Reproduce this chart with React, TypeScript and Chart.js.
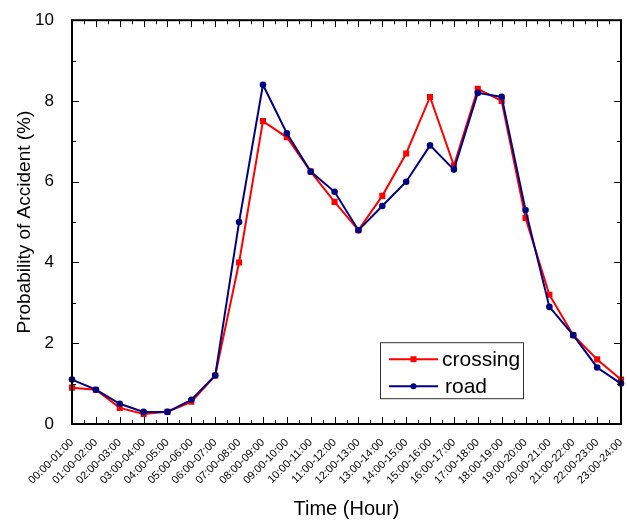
import React, { useEffect, useRef } from 'react';
import { Chart, registerables } from 'chart.js';

Chart.register(...registerables);

const hours = [
  '00:00-01:00', '01:00-02:00', '02:00-03:00', '03:00-04:00', '04:00-05:00', '05:00-06:00',
  '06:00-07:00', '07:00-08:00', '08:00-09:00', '09:00-10:00', '10:00-11:00', '11:00-12:00',
  '12:00-13:00', '13:00-14:00', '14:00-15:00', '15:00-16:00', '16:00-17:00', '17:00-18:00',
  '18:00-19:00', '19:00-20:00', '20:00-21:00', '21:00-22:00', '22:00-23:00', '23:00-24:00',
];
const crossing = [0.9, 0.85, 0.4, 0.25, 0.3, 0.55, 1.2, 4.0, 7.5, 7.1, 6.25, 5.5, 4.8, 5.65, 6.7, 8.1, 6.4, 8.3, 8.0, 5.1, 3.2, 2.2, 1.6, 1.1];
const road = [1.1, 0.85, 0.5, 0.3, 0.3, 0.6, 1.2, 5.0, 8.4, 7.2, 6.25, 5.75, 4.8, 5.4, 6.0, 6.9, 6.3, 8.2, 8.1, 5.3, 2.9, 2.2, 1.4, 1.0];
const yMin = 0;
const yMax = 10;
const yStep = 2;

const FONT = '"Liberation Sans", Arial, sans-serif';
const RED = '#ff0000';
const NAVY = '#000080';

const frameTicks = {
  id: 'frameTicks',
  afterDatasetsDraw(chart: any) {
    const { ctx, chartArea, scales } = chart;
    const { left, right, top, bottom } = chartArea;
    const x = scales.x;
    const y = scales.y;
    ctx.save();
    ctx.strokeStyle = '#000';
    ctx.lineWidth = 1;
    ctx.beginPath();
    const n = hours.length;
    for (let i = 0; i < n; i++) {
      const px = Math.round(x.getPixelForValue(i)) + 0.5;
      ctx.moveTo(px, bottom); ctx.lineTo(px, bottom - 7);
      ctx.moveTo(px, top); ctx.lineTo(px, top + 7);
      if (i < n - 1) {
        const mx = Math.round((x.getPixelForValue(i) + x.getPixelForValue(i + 1)) / 2) + 0.5;
        ctx.moveTo(mx, bottom); ctx.lineTo(mx, bottom - 4);
        ctx.moveTo(mx, top); ctx.lineTo(mx, top + 4);
      }
    }
    for (let v = yMin; v <= yMax; v += 1) {
      const py = Math.round(y.getPixelForValue(v)) + 0.5;
      const len = v % yStep === 0 ? 7 : 4;
      ctx.moveTo(left, py); ctx.lineTo(left + len, py);
      ctx.moveTo(right, py); ctx.lineTo(right - len, py);
    }
    ctx.stroke();
    ctx.lineWidth = 2;
    ctx.strokeRect(left, top, right - left, bottom - top);
    ctx.restore();
  },
};

const boxLegend = {
  id: 'boxLegend',
  afterDraw(chart: any) {
    const { ctx, chartArea } = chart;
    const bx = chartArea.left + 308;
    const by = chartArea.top + 322;
    const bw = 143;
    const bh = 56;
    ctx.save();
    ctx.fillStyle = '#fff';
    ctx.fillRect(bx, by, bw, bh);
    ctx.strokeStyle = '#333';
    ctx.lineWidth = 1;
    ctx.strokeRect(bx + 0.5, by + 0.5, bw, bh);
    chart.data.datasets.forEach((ds: any, k: number) => {
      const ly = by + 17 + k * 27;
      ctx.strokeStyle = ds.borderColor;
      ctx.lineWidth = 2;
      ctx.beginPath();
      ctx.moveTo(bx + 9, ly);
      ctx.lineTo(bx + 58, ly);
      ctx.stroke();
      ctx.fillStyle = ds.borderColor;
      if (ds.pointStyle === 'rect') {
        ctx.fillRect(bx + 33.5 - 3, ly - 3, 6, 6);
      } else {
        ctx.beginPath();
        ctx.arc(bx + 33.5, ly, 3, 0, Math.PI * 2);
        ctx.fill();
      }
      ctx.fillStyle = '#000';
      ctx.font = `21px ${FONT}`;
      ctx.textBaseline = 'middle';
      ctx.textAlign = 'left';
      ctx.fillText(ds.label, bx + (k === 0 ? 62 : 65), ly + 1);
    });
    ctx.restore();
  },
};

export default function App() {
  const ref = useRef<HTMLCanvasElement | null>(null);
  useEffect(() => {
    if (!ref.current) return;
    const chart = new Chart(ref.current, {
      type: 'line',
      data: {
        labels: hours,
        datasets: [
          {
            label: 'crossing',
            data: crossing,
            borderColor: RED,
            backgroundColor: RED,
            borderWidth: 2,
            pointStyle: 'rect',
            pointRadius: 4.3,
            pointBorderWidth: 0,
            tension: 0,
            order: 1,
          },
          {
            label: 'road',
            data: road,
            borderColor: NAVY,
            backgroundColor: NAVY,
            borderWidth: 2,
            pointStyle: 'circle',
            pointRadius: 3.3,
            pointBorderWidth: 0,
            tension: 0,
            order: 0,
          },
        ],
      },
      options: {
        responsive: false,
        animation: false,
        layout: { padding: { top: 20, right: 6, left: 0, bottom: 0 } },
        plugins: {
          legend: { display: false },
          tooltip: { enabled: false },
        },
        scales: {
          x: {
            type: 'category',
            offset: false,
            grid: { display: false },
            border: { display: false },
            ticks: {
              autoSkip: false,
              maxRotation: 45,
              minRotation: 45,
              color: '#000',
              padding: 4,
              font: { size: 11, family: FONT },
            },
            title: {
              display: true,
              text: 'Time (Hour)',
              color: '#000',
              font: { size: 20, family: FONT },
              padding: { top: 0, bottom: 0 },
            },
            afterFit(s: any) {
              s.height = 97;
              s.paddingRight = 0;
              s.paddingLeft = 0;
            },
          },
          y: {
            min: yMin,
            max: yMax,
            grid: { display: false },
            border: { display: false },
            ticks: {
              stepSize: yStep,
              color: '#000',
              padding: 10,
              font: { size: 17, family: FONT },
            },
            title: {
              display: true,
              text: 'Probability of Accident (%)',
              color: '#000',
              font: { size: 19, family: FONT },
              padding: { top: 13, bottom: 0 },
            },
            afterFit(s: any) { s.width = 72; },
          },
        },
      },
      plugins: [frameTicks, boxLegend],
    });
    return () => chart.destroy();
  }, []);
  return (
    <div style={{ position: 'absolute', left: 0, top: 0, width: 627, height: 521 }}>
      <canvas ref={ref} width={627} height={521} />
    </div>
  );
}
